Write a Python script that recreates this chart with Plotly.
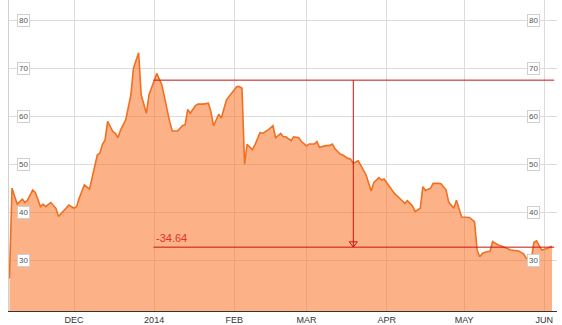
import plotly.graph_objects as go

# ---- data ----
dates = [
    "2013-11-06", "2013-11-07", "2013-11-09", "2013-11-11", "2013-11-12", "2013-11-13",
    "2013-11-15", "2013-11-16", "2013-11-18", "2013-11-19", "2013-11-20", "2013-11-22",
    "2013-11-24", "2013-11-25", "2013-11-27", "2013-11-29", "2013-12-01", "2013-12-02",
    "2013-12-03", "2013-12-05", "2013-12-07", "2013-12-09", "2013-12-10", "2013-12-11",
    "2013-12-12", "2013-12-13", "2013-12-14", "2013-12-16", "2013-12-17", "2013-12-18",
    "2013-12-19", "2013-12-21", "2013-12-23", "2013-12-24", "2013-12-26", "2013-12-27",
    "2013-12-29", "2013-12-30", "2014-01-01", "2014-01-02", "2014-01-04", "2014-01-06",
    "2014-01-07", "2014-01-08", "2014-01-10", "2014-01-12", "2014-01-13", "2014-01-14",
    "2014-01-15", "2014-01-17", "2014-01-18", "2014-01-20", "2014-01-22", "2014-01-23",
    "2014-01-24", "2014-01-26", "2014-01-27", "2014-01-29", "2014-01-31", "2014-02-02",
    "2014-02-03", "2014-02-04", "2014-02-05", "2014-02-06", "2014-02-08", "2014-02-09",
    "2014-02-11", "2014-02-12", "2014-02-14", "2014-02-16", "2014-02-17", "2014-02-19",
    "2014-02-20", "2014-02-21", "2014-02-23", "2014-02-24", "2014-02-26", "2014-02-27",
    "2014-03-01", "2014-03-02", "2014-03-04", "2014-03-05", "2014-03-06", "2014-03-08",
    "2014-03-10", "2014-03-11", "2014-03-12", "2014-03-14", "2014-03-15", "2014-03-17",
    "2014-03-18", "2014-03-19", "2014-03-21", "2014-03-23", "2014-03-24", "2014-03-26",
    "2014-03-27", "2014-03-29", "2014-03-30", "2014-03-31", "2014-04-02", "2014-04-04",
    "2014-04-06", "2014-04-08", "2014-04-09", "2014-04-11", "2014-04-12", "2014-04-14",
    "2014-04-15", "2014-04-16", "2014-04-18", "2014-04-19", "2014-04-21", "2014-04-22",
    "2014-04-24", "2014-04-25", "2014-04-27", "2014-04-28", "2014-04-30", "2014-05-03",
    "2014-05-05", "2014-05-06", "2014-05-07", "2014-05-08", "2014-05-10", "2014-05-11",
    "2014-05-12", "2014-05-14", "2014-05-16", "2014-05-18", "2014-05-19", "2014-05-22",
    "2014-05-24", "2014-05-25", "2014-05-27", "2014-05-28", "2014-05-29", "2014-05-31",
    "2014-06-02", "2014-06-04",
]
prices = [
    26.3, 45.1, 41.8, 42.8, 42.1, 42.6,
    44.7, 44.2, 41.25, 41.75, 41.25, 42.1,
    40.9, 39.2, 40.4, 41.6, 40.9, 41.25,
    43.0, 45.8, 44.9, 49.6, 52.0, 52.4,
    54.25, 55.1, 59.0, 56.9, 56.5, 55.6,
    57.2, 59.3, 64.5, 70.1, 73.3, 64.5,
    60.7, 64.5, 67.6, 69.0, 66.6, 61.0,
    59.0, 57.0, 57.0, 58.1, 58.3, 61.5,
    60.7, 62.3, 62.6, 62.6, 62.8, 61.0,
    58.1, 60.5, 59.7, 63.5, 64.9, 66.25,
    66.25, 65.9, 50.1, 54.25, 53.1, 54.1,
    56.7, 56.5, 57.2, 58.1, 55.6, 56.5,
    55.8, 55.8, 55.0, 55.8, 55.6, 54.8,
    53.9, 54.3, 54.3, 54.8, 53.6, 53.9,
    54.0, 54.3, 53.3, 52.2, 52.0, 51.3,
    51.2, 50.3, 50.8, 48.9, 47.9, 44.5,
    46.25, 47.3, 46.8, 47.0, 45.4, 44.0,
    43.0, 41.95, 42.5, 41.4, 40.2, 40.9,
    45.4, 44.6, 45.1, 46.1, 46.1, 46.0,
    44.7, 42.2, 40.9, 42.6, 39.1, 39.0,
    38.1, 32.2, 30.8, 31.5, 31.9, 31.9,
    34.0, 33.3, 32.9, 32.4, 32.2, 32.0,
    31.4, 30.5, 30.3, 33.8, 34.1, 32.2,
    32.5, 33.0,
]

month_ticks = ["2013-12-01", "2014-01-01", "2014-02-01", "2014-03-01",
               "2014-04-01", "2014-05-01", "2014-06-01"]
month_labels = ["DEC", "2014", "FEB", "MAR", "APR", "MAY", "JUN"]
y_ticks = [30, 40, 50, 60, 70, 80]
y_labels = ["30", "40", "50", "60", "70", "80"]

# measurement overlay (drawn in red)
ref_start = "2013-12-31 18:00"
ref_end = "2014-06-04 20:00"
ref_high = 67.6
ref_low = 32.8
arrow_date = "2014-03-19 02:00"
change_label = "-34.64"

x_range = ["2013-11-05 20:00", "2014-06-05 22:00"]
y_range = [19.5, 84.3]

RED = "#cc1111"

fig = go.Figure()
fig.add_trace(go.Scatter(
    x=dates, y=prices, mode="lines", fill="tozeroy",
    line=dict(color="#f07022", width=1.6),
    fillcolor="rgba(249,118,40,0.56)",
    hoverinfo="skip", showlegend=False,
))
# arrow head at the bottom of the vertical measurement line
fig.add_trace(go.Scatter(
    x=[arrow_date], y=[ref_low + 0.75], mode="markers",
    marker=dict(symbol="triangle-down-open", size=7, color=RED,
                line=dict(color=RED, width=1)),
    hoverinfo="skip", showlegend=False,
))

shapes = [
    dict(type="line", xref="x", yref="y", x0=ref_start, x1=ref_end,
         y0=ref_high, y1=ref_high, line=dict(color=RED, width=1)),
    dict(type="line", xref="x", yref="y", x0=ref_start, x1=ref_end,
         y0=ref_low, y1=ref_low, line=dict(color=RED, width=1)),
    dict(type="line", xref="x", yref="y", x0=arrow_date, x1=arrow_date,
         y0=ref_high, y1=ref_low, line=dict(color=RED, width=1)),
]

annotations = [
    dict(x=ref_start, y=ref_low, xref="x", yref="y", text=change_label,
         showarrow=False, xanchor="left", yanchor="bottom", xshift=1, yshift=1,
         font=dict(family="Liberation Sans, Arial", size=11, color="#e23228")),
]
for v, lab in zip(y_ticks, y_labels):
    for xpos in (0.027, 0.958):
        annotations.append(dict(
            x=xpos, y=v, xref="paper", yref="y", text=lab, showarrow=False,
            xanchor="center", yanchor="middle",
            font=dict(family="Liberation Sans, Arial", size=8, color="#555"),
            bgcolor="white", bordercolor="#cfcfcf", borderwidth=1, borderpad=1,
        ))

fig.update_layout(
    width=562, height=325,
    margin=dict(l=9, r=5, t=0, b=14),
    paper_bgcolor="white", plot_bgcolor="white",
    shapes=shapes, annotations=annotations,
    xaxis=dict(
        range=x_range, type="date",
        tickvals=month_ticks, ticktext=month_labels,
        showgrid=True, gridcolor="#dcdcdc", gridwidth=1,
        ticks="", showline=True, linecolor="#333", linewidth=1,
        tickfont=dict(family="Liberation Sans, Arial", size=9, color="#333"),
        zeroline=False, fixedrange=True,
    ),
    yaxis=dict(
        range=y_range, tickvals=y_ticks, showticklabels=False,
        showgrid=True, gridcolor="#dcdcdc", gridwidth=1,
        ticks="", showline=True, linecolor="#d0d0d0", linewidth=1,
        zeroline=False, fixedrange=True,
    ),
)

fig.write_html("out.html")
